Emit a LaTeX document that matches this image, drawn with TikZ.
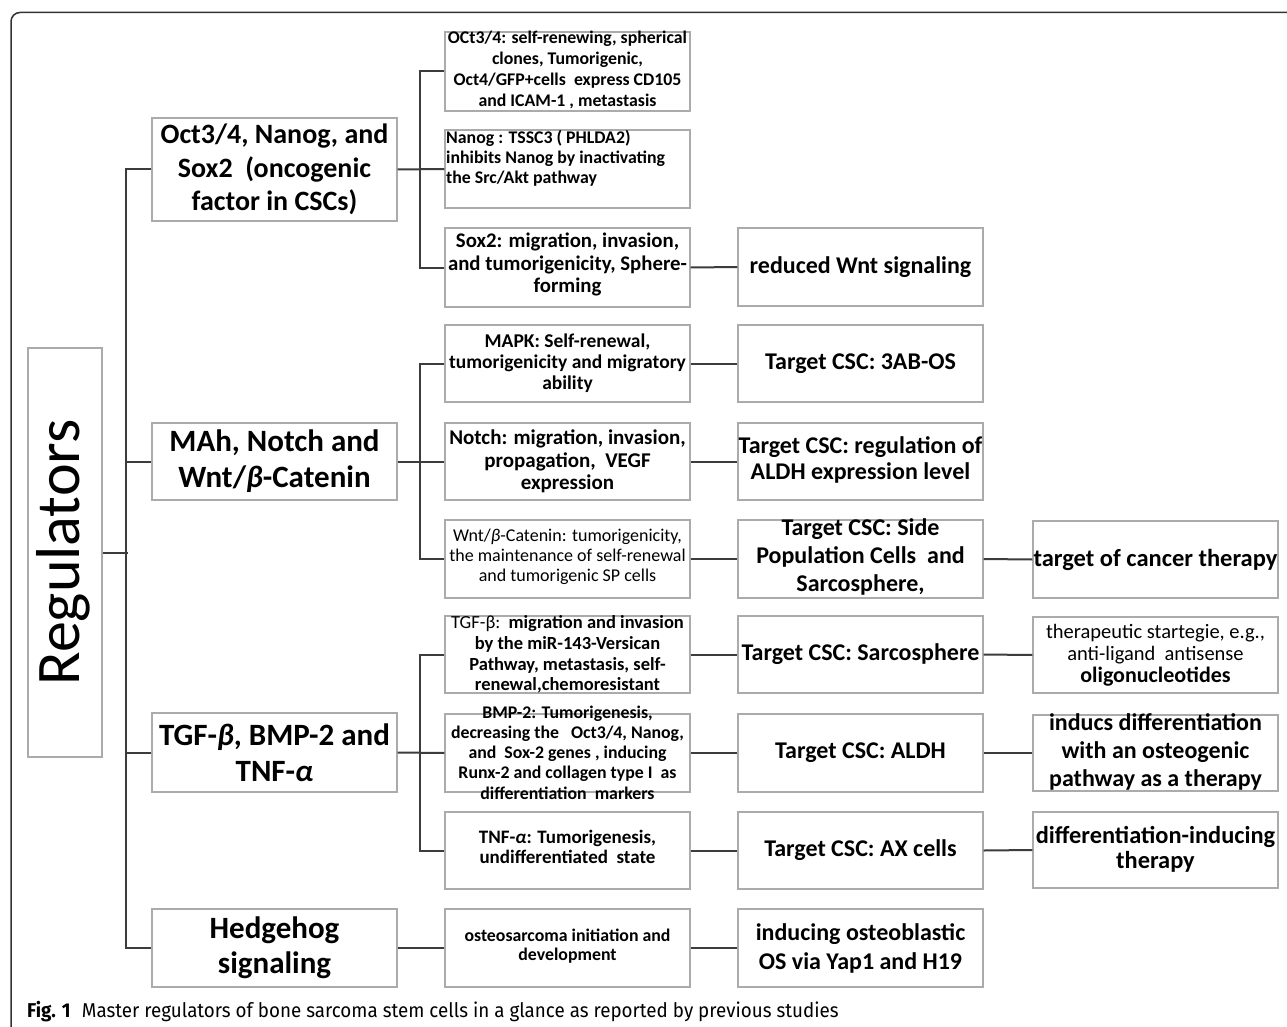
\documentclass[tikz,border=0pt]{standalone}
\usepackage{fontspec}
\usepackage{graphicx}
\setmainfont{Carlito}
\newfontfamily\capfont{Fira Sans}
\definecolor{boxgray}{HTML}{ABABAB}
\definecolor{linegray}{HTML}{3C3C3C}
\definecolor{framegray}{HTML}{333333}
\tikzset{
  bx/.style={draw=boxgray, line width=1.3pt, fill=white, inner sep=0pt, minimum width=245pt, minimum height=78pt},
  lbl/.style={inner sep=0pt, align=center, text=black},
  conn/.style={draw=linegray, line width=2pt},
}
\newcommand\fs[2]{\fontsize{#1}{#2}\selectfont}
\begin{document}
\begin{tikzpicture}[x=1pt,y=-1pt]
\useasboundingbox (0,0) rectangle (1287,1027);
\fill[white] (0,0) rectangle (1287,1027);
\draw[draw=framegray, line width=1.5pt, rounded corners=9pt] (1287,12.5) -- (11,12.5) -- (11,1027);

% root
\node[bx, minimum width=74pt, minimum height=409pt] (R) at (65,552.5) {};
\node[lbl, rotate=90, font={\fs{62}{66}}] at ([xshift=-2pt]R.center) {Regulators};

% level 1
\node[bx, minimum height=103pt] (A) at (274.5,169.5) {};
\node[lbl, font={\fs{28}{33.5}\bfseries}] at (A.center) {Oct3/4, Nanog, and\\Sox2\ \ (oncogenic\\factor in CSCs)};
\node[bx, minimum height=77pt] (B) at (274.5,461.5) {};
\node[lbl, font={\fs{31}{36}\bfseries}] at (B.center) {MAh, Notch and\\Wnt/\textit{β}-Catenin};
\node[bx, minimum height=79pt] (C) at (274.5,752.5) {};
\node[lbl, font={\fs{31}{36}\bfseries}] at (C.center) {TGF-\textit{β}, BMP-2 and\\TNF-\textit{α}};
\node[bx] (D) at (274.5,948) {};
\node[lbl, font={\fs{31}{35}\bfseries}] at (D.center) {Hedgehog\\signaling};

% column 2
\node[bx, minimum height=79pt] (o1) at (567.5,71.5) {};
\node[lbl, font={\fs{17.8}{21}\bfseries}] at ([yshift=2pt]o1.center) {OCt3/4: self-renewing, spherical\\clones, Tumorigenic,\\Oct4/GFP+cells\ \ express CD105\\and ICAM-1 , metastasis};
\node[bx] (o2) at (567.5,169) {};
\node[lbl, align=left, anchor=west, font={\fs{17.8}{20}\bfseries}] at (446,158) {Nanog : TSSC3 ( PHLDA2)\\inhibits Nanog by inactivating\\the Src/Akt pathway};
\node[bx, minimum height=79pt] (o3) at (567.5,267.5) {};
\node[lbl, font={\fs{20.8}{22.5}\bfseries}] at ([yshift=3pt]o3.center) {Sox2: migration, invasion,\\and tumorigenicity, Sphere-\\forming};

\node[bx, minimum height=77pt] (m1) at (567.5,363.5) {};
\node[lbl, font={\fs{19.5}{21}\bfseries}] at (m1.center) {MAPK: Self-renewal,\\tumorigenicity and migratory\\ability};
\node[bx, minimum height=77pt] (m2) at (567.5,461.5) {};
\node[lbl, font={\fs{21}{22.5}\bfseries}] at (m2.center) {Notch: migration, invasion,\\propagation,\ \ VEGF\\expression};
\node[bx] (m3) at (567.5,559) {};
\node[lbl, font={\fs{18}{20}}] at ([yshift=2pt]m3.center) {Wnt/\textit{β}-Catenin: tumorigenicity,\\the maintenance of self-renewal\\and tumorigenic SP cells};

\node[bx, minimum height=77pt] (t1) at (567.5,654.5) {};
\node[lbl, font={\fs{18.5}{20.7}\bfseries}] at (t1.center) {{\mdseries TGF-β:}\ \ migration and invasion\\by the miR-143-Versican\\Pathway, metastasis, self-\\renewal,chemoresistant};
\node[bx] (t2) at (567.5,753) {};
\node[lbl, font={\fs{17.8}{20.2}\bfseries}] at ([yshift=0.5pt]t2.center) {BMP-2: Tumorigenesis,\\decreasing the\ \ \ Oct3/4, Nanog,\\and\ \ Sox-2 genes , inducing\\Runx-2 and collagen type I\ \ as\\differentiation\ \ markers};
\node[bx, minimum height=77pt] (t3) at (567.5,850.5) {};
\node[lbl, font={\fs{19}{20}\bfseries}] at ([yshift=3.5pt]t3.center) {TNF-\textit{α}: Tumorigenesis,\\undifferentiated\ \ state};

\node[bx] (h2) at (567.5,948) {};
\node[lbl, font={\fs{17.8}{19}\bfseries}] at ([yshift=1.5pt]h2.center) {osteosarcoma initiation and\\development};

% column 3
\node[bx] (c0) at (860.5,267) {};
\node[lbl, font={\fs{24}{26}\bfseries}] at (c0.center) {reduced Wnt signaling};
\node[bx, minimum height=77pt] (c1) at (860.5,363.5) {};
\node[lbl, font={\fs{24}{26}\bfseries}] at (c1.center) {Target CSC: 3AB-OS};
\node[bx, minimum height=77pt] (c2) at (860.5,461.5) {};
\node[lbl, font={\fs{24}{26}\bfseries}] at ([yshift=1.5pt]c2.center) {Target CSC: regulation of\\ALDH expression level};
\node[bx] (c3) at (860.5,559) {};
\node[lbl, font={\fs{24}{28}\bfseries}] at ([yshift=2pt]c3.center) {Target CSC: Side\\Population Cells\ \ and\\Sarcosphere,};
\node[bx, minimum height=77pt] (c4) at (860.5,654.5) {};
\node[lbl, font={\fs{24}{26}\bfseries}] at (c4.center) {Target CSC: Sarcosphere};
\node[bx] (c5) at (860.5,753) {};
\node[lbl, font={\fs{24}{26}\bfseries}] at (c5.center) {Target CSC: ALDH};
\node[bx, minimum height=77pt] (c6) at (860.5,850.5) {};
\node[lbl, font={\fs{24}{26}\bfseries}] at (c6.center) {Target CSC: AX cells};
\node[bx] (h3) at (860.5,948) {};
\node[lbl, font={\fs{24}{29}\bfseries}] at (h3.center) {inducing osteoblastic\\OS via Yap1 and H19};

% column 4
\node[bx, minimum height=77pt] (d1) at (1155.5,559.5) {};
\node[lbl, font={\fs{24.5}{26}\bfseries}] at (d1.center) {target of cancer therapy};
\node[bx, minimum height=76pt] (d2) at (1155.5,655) {};
\node[lbl, font={\fs{20.5}{22}}] at (d2.center) {therapeutic startegie, e.g.,\\anti-ligand\ \ antisense\\{\fs{22}{24}\bfseries oligonucleotides}};
\node[bx, minimum height=76pt] (d3) at (1155.5,753) {};
\node[lbl, font={\fs{24}{28}\bfseries}] at ([yshift=1pt]d3.center) {inducs differentiation\\with an osteogenic\\pathway as a therapy};
\node[bx, minimum height=76pt] (d4) at (1155.5,850) {};
\node[lbl, font={\fs{24.4}{25}\bfseries}] at ([yshift=0.5pt]d4.center) {differentiation-inducing\\therapy};

% connectors level 0-1
\draw[conn] (R.east) -- ++(25,0);
\draw[conn] (A.west) -- ++(-25,0) |- (D.west);
\draw[conn] (B.west) -- ++(-25,0);
\draw[conn] (C.west) -- ++(-25,0);

% level 1 - 2
\draw[conn] (o1.west) -- ++(-24,0) |- (o3.west);
\draw[conn] (A.east) -- (o2.west);
\draw[conn] (m1.west) -- ++(-24,0) |- (m3.west);
\draw[conn] (B.east) -- (m2.west);
\draw[conn] (t1.west) -- ++(-24,0) |- (t3.west);
\draw[conn] (C.east) -- (t2.west);
\draw[conn] (D.east) -- (h2.west);

% level 2 - 3
\draw[conn] (o3.east) -- (c0.west);
\draw[conn] (m1.east) -- (c1.west);
\draw[conn] (m2.east) -- (c2.west);
\draw[conn] (m3.east) -- (c3.west);
\draw[conn] (t1.east) -- (c4.west);
\draw[conn] (t2.east) -- (c5.west);
\draw[conn] (t3.east) -- (c6.west);
\draw[conn] (h2.east) -- (h3.west);

% level 3 - 4
\draw[conn] (c3.east) -- (d1.west);
\draw[conn] (c4.east) -- (d2.west);
\draw[conn] (c5.east) -- (d3.west);
\draw[conn] (c6.east) -- (d4.west);

% caption
\node[anchor=base west, inner sep=0pt] (cap) at (27,1017) {\scalebox{0.94}[1]{\capfont\fs{20}{24}\textbf{Fig. 1}\hspace{12pt}Master regulators of bone sarcoma stem cells in a glance as reported by previous studies}};
\end{tikzpicture}
\end{document}
